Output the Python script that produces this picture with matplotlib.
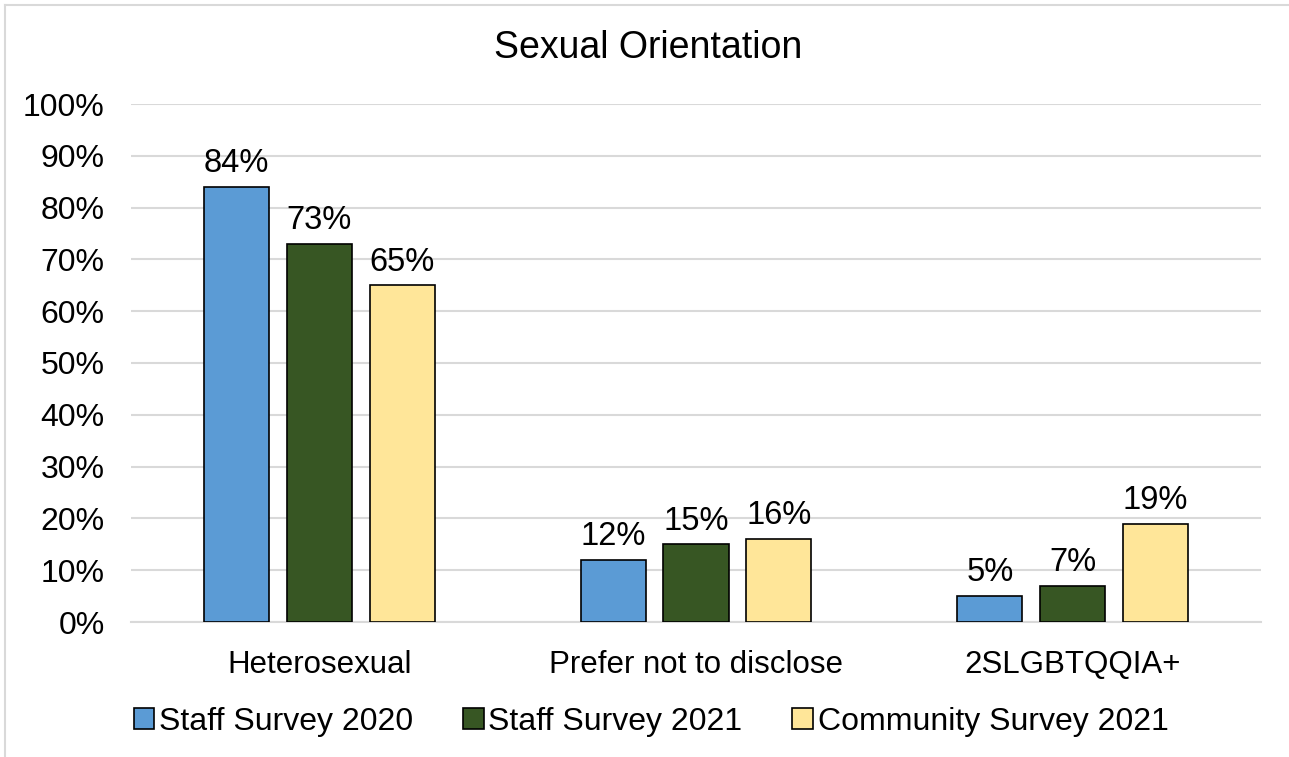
import numpy as np
import matplotlib.pyplot as plt
from matplotlib.lines import Line2D

plt.rcParams['font.family'] = ['Liberation Sans', 'DejaVu Sans']

categories = ['Heterosexual', 'Prefer not to disclose', '2SLGBTQQIA+']
series = ['Staff Survey 2020', 'Staff Survey 2021', 'Community Survey 2021']
staff_2020 = [84, 12, 5]
staff_2021 = [73, 15, 7]
community_2021 = [65, 16, 19]
colors = ['#5B9BD5', '#375623', '#FFE699']

W, H = 1289, 757
fig = plt.figure(figsize=(W / 100, H / 100), dpi=100)
ax = fig.add_axes([131 / W, 1 - 622 / H, 1130 / W, 518 / H])

x = np.arange(len(categories))
width = 0.173
step = 0.22
for i, (name, vals) in enumerate(zip(series, [staff_2020, staff_2021, community_2021])):
    bars = ax.bar(x + (i - 1) * step, vals, width, color=colors[i],
                  edgecolor='black', linewidth=1.2, label=name, zorder=3)
    for b, v in zip(bars, vals):
        ax.text(b.get_x() + b.get_width() / 2, v + 1.5, f'{v}%',
                ha='center', va='bottom', fontsize=23.5)

ax.set_xlim(-0.5, 2.5)
ax.set_ylim(0, 100)
ax.set_yticks(range(0, 101, 10))
ax.set_yticklabels([f'{t}%' for t in range(0, 101, 10)], fontsize=23)
ax.set_xticks(x)
ax.set_xticklabels(categories, fontsize=22.5)
ax.tick_params(length=0)
ax.tick_params(axis='y', pad=19)
ax.tick_params(axis='x', pad=20)
ax.grid(axis='y', color='#D9D9D9', linewidth=1.5, zorder=0)
for s in ['top', 'right', 'left']:
    ax.spines[s].set_visible(False)
ax.spines['bottom'].set_color('#D9D9D9')
ax.spines['bottom'].set_linewidth(1.5)

fig.text(648 / W, 1 - 48 / H, 'Sexual Orientation', ha='center', va='center', fontsize=27)

fig.legend(loc='center', bbox_to_anchor=(651 / W, 1 - 722 / H), ncol=3, frameon=False,
           fontsize=23, handlelength=0.65, handleheight=0.65, handletextpad=0.15,
           columnspacing=1.55)

# outer chart border (top and left edges)
fig.add_artist(Line2D([5 / W, 1], [1 - 5 / H, 1 - 5 / H], color='#D9D9D9', linewidth=1.5))
fig.add_artist(Line2D([5 / W, 5 / W], [0, 1 - 5 / H], color='#D9D9D9', linewidth=1.5))

fig.savefig('out.png', dpi=100)
